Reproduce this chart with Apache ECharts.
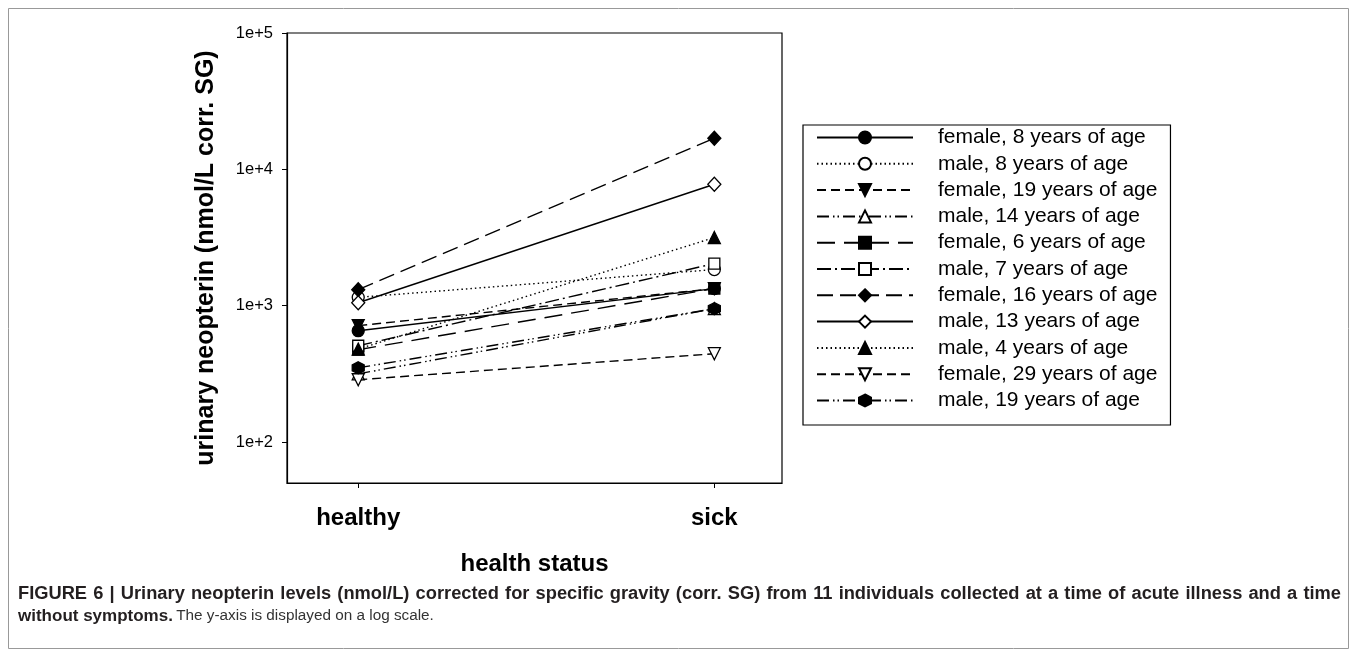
<!DOCTYPE html>
<html><head><meta charset="utf-8">
<script src="https://cdn.jsdelivr.net/npm/echarts@6/dist/echarts.min.js"></script>
<style>html,body{margin:0;padding:0;background:#fff}#c{width:1357px;height:656px}</style>
</head><body><div id="c"></div>
<script>
// ---- data ----
const categories = ['healthy', 'sick'];
const seriesNames = [
  'female, 8 years of age', 'male, 8 years of age', 'female, 19 years of age',
  'male, 14 years of age', 'female, 6 years of age', 'male, 7 years of age',
  'female, 16 years of age', 'male, 13 years of age', 'male, 4 years of age',
  'female, 29 years of age', 'male, 19 years of age'
];
const healthyValues = [655, 1150, 713, 316, 475, 508, 1310, 1050, 480, 286, 350];
const sickValues = [1334, 1840, 1334, 950, 1334, 2035, 16900, 7770, 3160, 444, 950];
const yTickValues = [100, 1000, 10000, 100000];
const yTickLabels = ['1e+2', '1e+3', '1e+4', '1e+5'];
const captionLine1 = 'FIGURE 6 | Urinary neopterin levels (nmol/L) corrected for specific gravity (corr. SG) from 11 individuals collected at a time of acute illness and a time';
const captionBold2 = 'without symptoms.';
const captionRegular2 = 'The y-axis is displayed on a log scale.';

// ---- styles ----
const TRI_DOWN = 'path://M0,0 L10,0 L5,9 Z';
const HEX = 'path://M5,0 L9.5,2.6 L9.5,7.8 L5,10.4 L0.5,7.8 L0.5,2.6 Z';
const styles = [
  {sym: 'circle', fill: '#000', dash: 'solid', size: 12},
  {sym: 'circle', fill: '#fff', dash: [1.5, 3], size: 12},
  {sym: TRI_DOWN, fill: '#000', dash: [9, 5], size: 12},
  {sym: 'triangle', fill: '#fff', dash: [12, 4, 1.5, 3, 1.5, 4], size: 12},
  {sym: 'rect', fill: '#000', dash: [18, 9], size: 11},
  {sym: 'rect', fill: '#fff', dash: [14, 4, 2, 4], size: 11},
  {sym: 'diamond', fill: '#000', dash: [16, 7], size: [13, 14]},
  {sym: 'diamond', fill: '#fff', dash: 'solid', size: [13, 14]},
  {sym: 'triangle', fill: '#000', dash: [1.5, 3], size: 12},
  {sym: TRI_DOWN, fill: '#fff', dash: [9, 5], size: 12},
  {sym: HEX, fill: '#000', dash: [12, 4, 1.5, 3, 1.5, 4], size: 12}
];

const series = seriesNames.map((name, i) => ({
  name: name,
  type: 'line',
  data: [[1, healthyValues[i]], [2, sickValues[i]]],
  symbol: styles[i].sym,
  symbolSize: styles[i].size,
  showAllSymbol: true,
  lineStyle: {color: '#000', width: 1.4, type: styles[i].dash},
  itemStyle: {color: styles[i].fill, borderColor: '#000', borderWidth: 1.3, opacity: 1},
  emphasis: {disabled: true},
  animation: false
}));

// ---- justified caption line ----
const CAP_FONT = 'Liberation Sans';
const capBoldFont = 'bold 18.3px "' + CAP_FONT + '"';
const measure = document.createElement('canvas').getContext('2d');
measure.font = capBoldFont;
const words = captionLine1.split(' ');
const capLeft = 18, capRight = 1341;
const wordWidths = words.map(w => measure.measureText(w).width);
const totalW = wordWidths.reduce((a, b) => a + b, 0);
const gap = (capRight - capLeft - totalW) / (words.length - 1);
const captionGraphics = [];
let cx = capLeft;
words.forEach((w, i) => {
  captionGraphics.push({type: 'text', x: cx, y: 594, silent: true,
    style: {text: w, font: capBoldFont, fill: '#231f20', verticalAlign: 'middle'}});
  cx += wordWidths[i] + gap;
});
captionGraphics.push({type: 'text', x: capLeft, y: 616, silent: true,
  style: {text: '{b|' + captionBold2 + '} {r|' + captionRegular2 + '}', verticalAlign: 'middle',
    rich: {
      b: {fontFamily: CAP_FONT, fontWeight: 'bold', fontSize: 17, fill: '#231f20'},
      r: {fontFamily: CAP_FONT, fontSize: 15.3, fill: '#333'}
    }}});

const chart = echarts.init(document.getElementById('c'), null, {renderer: 'canvas'});
const FONT = 'Liberation Sans, Arial, sans-serif';
chart.setOption({
  backgroundColor: '#fff',
  animation: false,
  grid: {left: 287, top: 33, right: 575, bottom: 173, show: true, borderColor: '#000', borderWidth: 1.2, backgroundColor: 'transparent'},
  xAxis: {
    type: 'value', min: 0.8, max: 2.19,
    name: 'health status', nameLocation: 'middle', nameGap: 69,
    nameTextStyle: {fontFamily: FONT, fontWeight: 'bold', fontSize: 24, color: '#000'},
    axisLine: {show: true, lineStyle: {color: '#000', width: 1.2}},
    axisTick: {show: true, length: 5, inside: false, customValues: [1, 2], lineStyle: {color: '#000'}},
    axisLabel: {customValues: [1, 2], margin: 23, fontFamily: FONT, fontWeight: 'bold', fontSize: 24, color: '#000',
      formatter: v => categories[Math.round(v) - 1] || ''},
    splitLine: {show: false}
  },
  yAxis: {
    type: 'log', logBase: 10, min: 50, max: 100000,
    name: 'urinary neopterin (nmol/L corr. SG)', nameLocation: 'middle', nameGap: 68,
    nameTextStyle: {fontFamily: FONT, fontWeight: 'bold', fontSize: 25, color: '#000'},
    axisLine: {show: true, lineStyle: {color: '#000', width: 1.2}},
    axisTick: {show: true, length: 5, customValues: yTickValues, lineStyle: {color: '#000'}},
    axisLabel: {customValues: yTickValues, margin: 14, fontFamily: FONT, fontSize: 16.5, color: '#000',
      formatter: v => { const k = yTickValues.findIndex(t => Math.abs(t - v) / t < 1e-6); return k >= 0 ? yTickLabels[k] : ''; }},
    splitLine: {show: false}
  },
  legend: {
    orient: 'vertical', left: 803, top: 125,
    padding: [2, 13, 14, 13],
    borderColor: '#000', borderWidth: 1.2,
    itemWidth: 96, itemHeight: 15, itemGap: 5.3,
    data: seriesNames,
    textStyle: {fontFamily: FONT, fontSize: 21, color: '#000', padding: [0, 0, 0, 20], lineHeight: 21},
    itemStyle: {}, lineStyle: {},
    selectedMode: false
  },
  graphic: [
    {type: 'rect', shape: {x: 8.5, y: 8.5, width: 1340, height: 640}, style: {fill: 'none', stroke: '#999', lineWidth: 1}, silent: true}
  ].concat(captionGraphics),
  series: series
});
</script></body></html>
